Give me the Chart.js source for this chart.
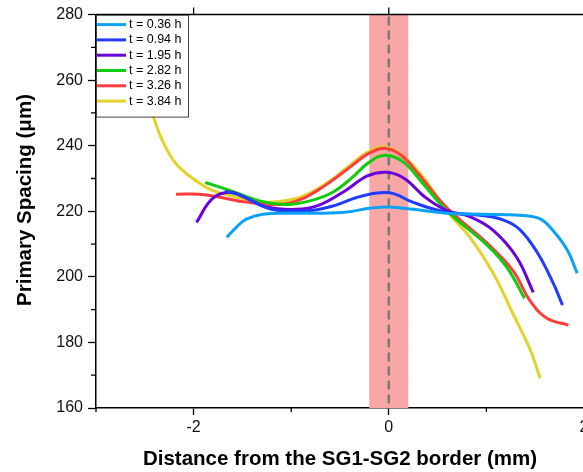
<!DOCTYPE html>
<html>
<head>
<meta charset="utf-8">
<title>Primary spacing across the SG1-SG2 border</title>
<script src="https://cdn.jsdelivr.net/npm/chart.js@4.4.1/dist/chart.umd.min.js"></script>
<style>
  html, body { margin: 0; padding: 0; background: #fff; overflow: hidden; }
  #chart { position: absolute; left: 0; top: 0; }
</style>
</head>
<body>
<canvas id="chart" width="630" height="472"></canvas>
<script>
const FONT = '"Liberation Sans", Arial, sans-serif';

// Series labels (holding time)
const seriesLabels = ['t = 0.36 h', 't = 0.94 h', 't = 1.95 h', 't = 2.82 h', 't = 3.26 h', 't = 3.84 h'];
const seriesColors = ['#0aa2f7', '#1f3cff', '#6a00dc', '#0fcc0f', '#ff3d3d', '#e2d22a'];
const yTitle = 'Primary Spacing (\u03bcm)';

// distance (mm) / primary spacing (µm) per series
const x036 = [-1.66, -1.56, -1.46, -1.29, -1.02, -0.71, -0.43, -0.2, 0, 0.25, 0.59, 0.93, 1.34, 1.55, 1.68, 1.83, 1.93];
const y036 = [212.1, 215.2, 217.6, 219.1, 219.4, 219.4, 219.8, 220.9, 221.3, 220.6, 219.4, 219.1, 218.8, 217.7, 214.2, 208.1, 201.1];

const x094 = [-1.68, -1.53, -1.29, -1.12, -0.78, -0.55, -0.33, -0.12, 0.05, 0.25, 0.59, 0.93, 1.17, 1.34, 1.52, 1.68, 1.78];
const y094 = [226.1, 225.0, 221.5, 220.2, 220.3, 221.8, 224.2, 225.6, 225.4, 222.7, 219.7, 218.8, 217.4, 214.5, 207.5, 198.4, 191.4];

const x195 = [-1.97, -1.81, -1.63, -1.46, -1.25, -0.95, -0.72, -0.45, -0.22, -0.02, 0.16, 0.36, 0.59, 0.83, 1.07, 1.31, 1.48];
const y195 = [216.6, 223.8, 225.8, 224.0, 221.3, 220.6, 221.8, 226.2, 230.8, 231.9, 230.0, 224.6, 220.3, 218.4, 214.2, 206.0, 195.3];

const x282 = [-1.88, -1.63, -1.29, -1.02, -0.78, -0.57, -0.38, -0.2, -0.03, 0.15, 0.34, 0.59, 1.01, 1.21, 1.39];
const y282 = [228.8, 226.4, 222.9, 222.1, 223.4, 225.9, 230.2, 235.0, 237.1, 235.0, 228.8, 220.3, 209.6, 202.9, 193.5];

const x326 = [-2.18, -1.94, -1.73, -1.46, -1.12, -0.92, -0.75, -0.57, -0.4, -0.21, -0.04, 0.13, 0.3, 0.59, 1.01, 1.27, 1.45, 1.62, 1.84];
const y326 = [225.2, 225.2, 224.3, 222.8, 222.1, 223.4, 226.0, 229.6, 233.4, 237.6, 239.2, 237.0, 231.5, 221.2, 210.2, 202.0, 192.6, 187.4, 185.3];

const x384 = [-2.49, -2.41, -2.32, -2.18, -1.98, -1.81, -1.64, -1.29, -0.98, -0.78, -0.57, -0.4, -0.22, -0.05, 0.14, 0.35, 0.59, 0.83, 1.07, 1.27, 1.45, 1.55];
const y384 = [255.3, 248.6, 241.6, 234.5, 229.4, 226.4, 224.9, 222.8, 223.7, 226.0, 229.9, 234.0, 238.0, 239.7, 237.0, 230.5, 220.3, 212.1, 201.1, 188.9, 177.7, 169.1];

const seriesX = [x036, x094, x195, x282, x326, x384];
const seriesY = [y036, y094, y195, y282, y326, y384];

// Axis ranges and ticks
const X_MIN = -3, X_MAX = 2;
const X_MAJOR = [-2, 0, 2];
const X_MINOR = [-3, -1, 1];
const Y_MIN = 160, Y_MAX = 280, Y_STEP = 20;
const Y_MINOR = [170, 190, 210, 230, 250, 270];

// Shaded region around the border
const BAND_FROM = -0.2, BAND_TO = 0.2;

const datasets = seriesLabels.map((label, i) => ({
  label,
  data: seriesX[i].map((x, j) => ({ x, y: seriesY[i][j] })),
  borderColor: seriesColors[i],
  borderWidth: 3,
  pointRadius: 0,
  fill: false,
  tension: 0.4,
}));

// Pink band plus dashed centre line, under the curves
const bandPlugin = {
  id: 'borderBand',
  beforeDatasetsDraw(chart) {
    const { ctx, chartArea: a, scales: { x } } = chart;
    const x0 = x.getPixelForValue(BAND_FROM), x1 = x.getPixelForValue(BAND_TO);
    ctx.save();
    ctx.fillStyle = '#f9a6a6';
    ctx.fillRect(x0, a.top, x1 - x0, a.bottom - a.top);
    const xm = x.getPixelForValue(0);
    ctx.strokeStyle = '#7a7a7a';
    ctx.lineWidth = 2.5;
    ctx.setLineDash([9, 5]);
    ctx.beginPath();
    ctx.moveTo(xm, a.top + 2);
    ctx.lineTo(xm, a.bottom);
    ctx.stroke();
    ctx.restore();
  }
};

// Boxed legend in the upper-left corner of the plot
const legendPlugin = {
  id: 'boxLegend',
  afterDatasetsDraw(chart) {
    const { ctx, chartArea: a } = chart;
    const left = a.left, top = a.top, w = 92, h = 102, rowH = 15.3;
    ctx.save();
    ctx.fillStyle = '#fff';
    ctx.fillRect(left, top, w, h);
    ctx.strokeStyle = '#444';
    ctx.lineWidth = 1;
    ctx.strokeRect(left + 0.5, top + 0.5, w, h);
    ctx.font = '12.5px ' + FONT;
    ctx.textBaseline = 'middle';
    chart.data.datasets.forEach((ds, i) => {
      const y = top + 10 + i * rowH;
      ctx.strokeStyle = ds.borderColor;
      ctx.lineWidth = 3;
      ctx.beginPath();
      ctx.moveTo(left + 1, y);
      ctx.lineTo(left + 30, y);
      ctx.stroke();
      ctx.fillStyle = '#000';
      ctx.fillText(ds.label, left + 33, y);
    });
    ctx.restore();
  }
};

// Top frame line, top ticks, minor ticks and the y-axis title
const framePlugin = {
  id: 'frame',
  afterDraw(chart) {
    const { ctx, chartArea: a, scales: { x, y } } = chart;
    ctx.save();
    ctx.strokeStyle = '#000';
    ctx.lineWidth = 1.5;
    ctx.beginPath();
    ctx.moveTo(a.left, a.top);
    ctx.lineTo(a.right, a.top);
    ctx.stroke();
    ctx.lineWidth = 1.3;
    ctx.beginPath();
    X_MAJOR.forEach(v => {
      const px = x.getPixelForValue(v);
      ctx.moveTo(px, a.top);
      ctx.lineTo(px, a.top - 7);
    });
    X_MINOR.forEach(v => {
      const px = x.getPixelForValue(v);
      ctx.moveTo(px, a.bottom);
      ctx.lineTo(px, a.bottom + 4);
    });
    Y_MINOR.forEach(v => {
      const py = y.getPixelForValue(v);
      ctx.moveTo(a.left, py);
      ctx.lineTo(a.left - 5, py);
    });
    ctx.stroke();

    // y title sits a little above the axis midpoint
    ctx.translate(25, 200);
    ctx.rotate(-Math.PI / 2);
    ctx.font = 'bold 20.5px ' + FONT;
    ctx.fillStyle = '#000';
    ctx.textAlign = 'center';
    ctx.textBaseline = 'middle';
    ctx.fillText(yTitle, 0, 0);
    ctx.restore();
  }
};

new Chart(document.getElementById('chart'), {
  type: 'line',
  data: { datasets },
  plugins: [bandPlugin, legendPlugin, framePlugin],
  options: {
    responsive: false,
    animation: false,
    layout: { padding: { left: 0, right: 46, top: 14, bottom: 0 } },
    plugins: { legend: { display: false }, tooltip: { enabled: false } },
    scales: {
      x: {
        type: 'linear',
        min: X_MIN,
        max: X_MAX,
        afterBuildTicks: s => { s.ticks = X_MAJOR.map(v => ({ value: v })); },
        afterFit: s => { s.height = 64; },
        grid: { drawOnChartArea: false, drawTicks: true, tickLength: 7, tickWidth: 1.3, tickColor: '#000' },
        border: { display: true, color: '#000', width: 1.5 },
        ticks: { color: '#111', font: { size: 16, family: FONT }, padding: 3, maxRotation: 0, autoSkip: false, callback: v => String(v) },
        title: { display: true, text: 'Distance from the SG1-SG2 border (mm)', color: '#000', font: { size: 20.5, weight: 'bold', family: FONT }, padding: { top: 0, bottom: 0 } },
      },
      y: {
        type: 'linear',
        min: Y_MIN,
        max: Y_MAX,
        afterFit: s => { s.width = 96; },
        grid: { drawOnChartArea: false, drawTicks: true, tickLength: 8, tickWidth: 1.3, tickColor: '#000' },
        border: { display: true, color: '#000', width: 1.5 },
        ticks: { stepSize: Y_STEP, color: '#111', font: { size: 16, family: FONT }, padding: 5 },
        title: { display: false },
      },
    },
  },
});
</script>
</body>
</html>
